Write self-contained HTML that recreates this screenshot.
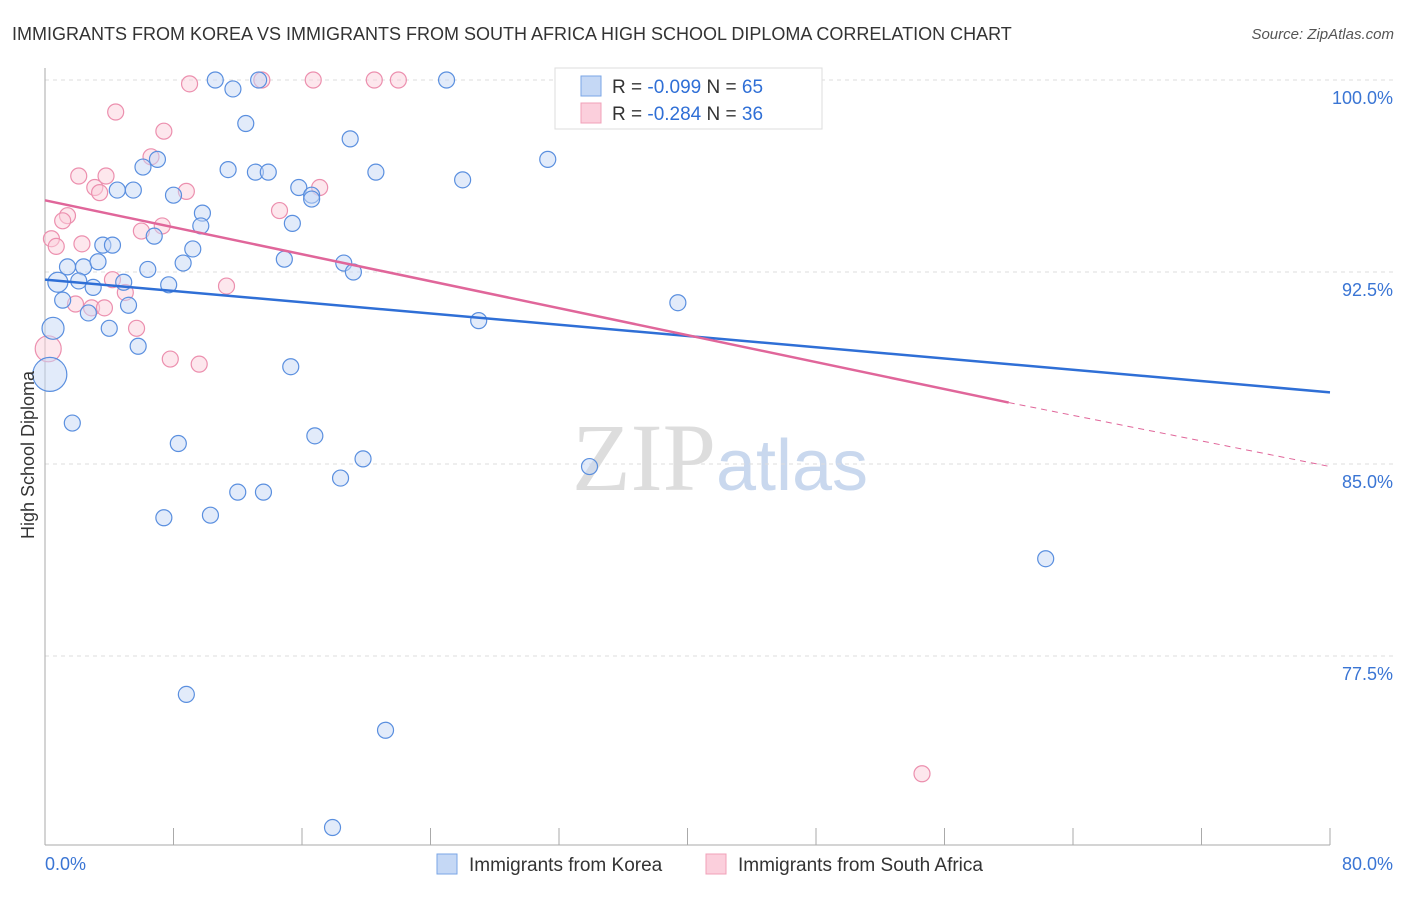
<!DOCTYPE html>
<html><head><meta charset="utf-8"><style>
body{margin:0;background:#fff;font-family:"Liberation Sans",sans-serif}
</style></head><body>
<svg id="chart" width="1406" height="892" xmlns="http://www.w3.org/2000/svg" font-family="Liberation Sans, sans-serif">
<text x="12" y="40" font-size="18" fill="#333">IMMIGRANTS FROM KOREA VS IMMIGRANTS FROM SOUTH AFRICA HIGH SCHOOL DIPLOMA CORRELATION CHART</text>
<text x="1394" y="39" font-size="15" fill="#555" text-anchor="end" font-style="italic">Source: ZipAtlas.com</text>
<text x="720" y="490" font-size="96" text-anchor="middle" font-family="Liberation Serif, serif" fill="#ddd">ZIP<tspan fill="#c9d8ee" font-family="Liberation Sans, sans-serif" font-size="72">atlas</tspan></text>
<g id="grid"></g><g id="axes"></g><g id="marks"></g>
<text transform="translate(34,455) rotate(-90)" font-size="18" fill="#333" text-anchor="middle">High School Diploma</text>
<g>
<rect x="555" y="68" width="267" height="61" fill="#fff" stroke="#ddd"/>
<rect x="581" y="76" width="20" height="20" fill="#c5d8f5" stroke="#7aa6e6"/>
<rect x="581" y="103" width="20" height="20" fill="#fbcfdc" stroke="#f0a0b8"/>
<text x="612" y="93" font-size="19" fill="#333">R = <tspan fill="#2f6fd6">-0.099</tspan>   N = <tspan fill="#2f6fd6">65</tspan></text>
<text x="612" y="120" font-size="19" fill="#333">R = <tspan fill="#2f6fd6">-0.284</tspan>   N = <tspan fill="#2f6fd6">36</tspan></text>
</g>
<g>
<rect x="437" y="854" width="20" height="20" fill="#c5d8f5" stroke="#7aa6e6"/>
<text x="469" y="871" font-size="19" fill="#333">Immigrants from Korea</text>
<rect x="706" y="854" width="20" height="20" fill="#fbcfdc" stroke="#f0a0b8"/>
<text x="738" y="871" font-size="19" fill="#333">Immigrants from South Africa</text>
</g>
</svg>
<script>
const yTicks=[100,92.5,85,77.5];
const yTickLabels=["100.0%","92.5%","85.0%","77.5%"];
const xTickLabels=["0.0%","80.0%"];
const koreaX=[10.6,11.7,13.3,25.0,39.4,12.5,19.0,31.3,7.0,6.1,11.4,13.1,13.9,20.6,26.0,4.5,5.5,8.0,15.8,16.6,16.6,9.8,15.4,9.7,6.8,3.6,4.2,9.2,14.9,1.4,2.4,3.3,6.4,8.6,18.6,19.2,0.8,2.1,4.9,7.7,3.0,1.1,5.2,2.7,4.0,0.5,27.0,39.4,5.8,15.3,0.3,1.7,8.3,16.8,19.8,33.9,18.4,12.0,13.6,7.4,10.3,62.3,8.8,21.2,17.9];
const koreaY=[100,99.65,100,100,100,98.3,97.7,96.9,96.9,96.6,96.5,96.4,96.4,96.4,96.1,95.7,95.7,95.5,95.8,95.5,95.35,94.8,94.4,94.3,93.9,93.55,93.55,93.4,93.0,92.7,92.7,92.9,92.6,92.85,92.85,92.5,92.1,92.15,92.1,92.0,91.9,91.4,91.2,90.9,90.3,90.3,90.6,91.3,89.6,88.8,88.5,86.6,85.8,86.1,85.2,84.9,84.45,83.9,83.9,82.9,83.0,81.3,76.0,74.6,70.8];
const koreaR=[8,8,8,8,8,8,8,8,8,8,8,8,8,8,8,8,8,8,8,8,8,8,8,8,8,8,8,8,8,8,8,8,8,8,8,8,10,8,8,8,8,8,8,8,8,11,8,8,8,8,17,8,8,8,8,8,8,8,8,8,8,8,8,8,8];
const africaX=[9.0,13.5,16.7,20.5,22.0,4.4,7.4,6.6,2.1,3.8,3.1,3.4,8.8,17.1,14.6,1.4,1.1,0.4,0.7,2.3,6.0,7.3,11.3,4.2,5.0,1.9,2.9,3.7,5.7,0.2,7.8,9.6,54.6];
const africaY=[99.85,100,100,100,100,98.75,98.0,97.0,96.25,96.25,95.8,95.6,95.65,95.8,94.9,94.7,94.5,93.8,93.5,93.6,94.1,94.3,91.95,92.2,91.7,91.25,91.1,91.1,90.3,89.5,89.1,88.9,72.9];
const africaR=[8,8,8,8,8,8,8,8,8,8,8,8,8,8,8,8,8,8,8,8,8,8,8,8,8,8,8,8,8,13,8,8,8];
const koreaTrend=[[0,92.2],[80,87.8]];
const africaTrend=[[0,95.3],[60,87.4],[80,84.9]];
const NS="http://www.w3.org/2000/svg";
const X=v=>45+v*(1285/80), Y=v=>80+(100-v)*25.6;
function mk(t,a,p){const e=document.createElementNS(NS,t);for(const k in a)e.setAttribute(k,a[k]);p.appendChild(e);return e;}
const grid=document.getElementById('grid'),axes=document.getElementById('axes'),marks=document.getElementById('marks');
yTicks.forEach((t,i)=>{
 const l=mk('line',{x1:45,x2:1393,y1:Y(t),y2:Y(t),stroke:'#ddd','stroke-dasharray':'4,4'},grid);
 
 
 const tx=mk('text',{x:1393,y:Y(t)+24,'font-size':18,fill:'#3a75d4','text-anchor':'end'},axes);
 tx.textContent=yTickLabels[i];
 
 
});
const ax=mk('line',{x1:45,x2:45,y1:68,y2:845,stroke:'#aaa'},axes);


const bx=mk('line',{x1:45,x2:1330,y1:845,y2:845,stroke:'#aaa'},axes);


for(let i=0;i<=10;i++){const t=mk('line',{x1:X(i*8),x2:X(i*8),y1:828,y2:845,stroke:'#aaa'},axes);
 
 }
[[0,'start',45],[80,'end',1393]].forEach((d,i)=>{const t=mk('text',{x:d[2],y:870,'font-size':18,fill:'#3a75d4','text-anchor':d[1]},axes);t.textContent=xTickLabels[i];
 
 });
function pts(xs,ys,rs,fill,stroke,name){xs.forEach((x,i)=>{const c=mk('circle',{cx:X(x),cy:Y(ys[i]),r:rs[i],fill:fill,'fill-opacity':0.5,stroke:stroke,'stroke-width':1.2},marks);
 
 });}
pts(africaX,africaY,africaR,'#fbcfdc','#ec8fae','south-africa-point');
pts(koreaX,koreaY,koreaR,'#c5d8f5','#5a8fdf','korea-point');
const kl=mk('line',{x1:X(koreaTrend[0][0]),y1:Y(koreaTrend[0][1]),x2:X(koreaTrend[1][0]),y2:Y(koreaTrend[1][1]),stroke:'#2f6fd6','stroke-width':2.5},marks);


const al=mk('line',{x1:X(africaTrend[0][0]),y1:Y(africaTrend[0][1]),x2:X(africaTrend[1][0]),y2:Y(africaTrend[1][1]),stroke:'#e0669a','stroke-width':2.5},marks);


const ad=mk('line',{x1:X(africaTrend[1][0]),y1:Y(africaTrend[1][1]),x2:X(africaTrend[2][0]),y2:Y(africaTrend[2][1]),stroke:'#e0669a','stroke-width':1,'stroke-dasharray':'6,5'},marks);


</script>
</body></html>
